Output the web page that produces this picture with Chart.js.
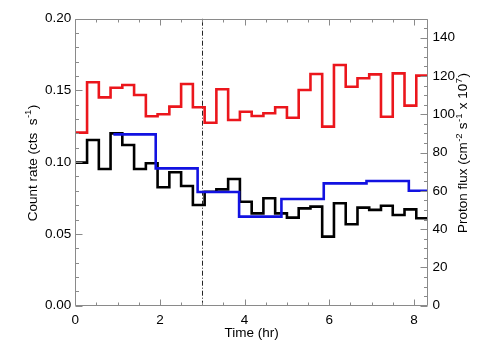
<!DOCTYPE html>
<html><head><meta charset="utf-8">
<script src="https://cdn.jsdelivr.net/npm/chart.js@4.4.1/dist/chart.umd.min.js"></script>
<style>html,body{margin:0;padding:0;background:#fff}canvas{display:block}</style>
</head><body>
<canvas id="c" width="504" height="360"></canvas>
<script>
// Time bin edges (hr), 1000 s bins
const binEdges = [0, 0.278, 0.556, 0.833, 1.111, 1.389, 1.667, 1.944, 2.222, 2.5,
  2.778, 3.056, 3.333, 3.611, 3.889, 4.167, 4.444, 4.722, 5.0, 5.278,
  5.556, 5.833, 6.111, 6.389, 6.667, 6.944, 7.222, 7.5, 7.778, 8.056, 8.333];
// Count rates (cts/s) per bin
const redRate = [0.1205, 0.1556, 0.1451, 0.1518, 0.1537, 0.1467, 0.1319, 0.1333, 0.1386, 0.1544,
  0.1382, 0.1274, 0.1507, 0.1293, 0.1351, 0.1321, 0.1340, 0.1382, 0.1309, 0.1502,
  0.1614, 0.1247, 0.1676, 0.1525, 0.1584, 0.1611, 0.1316, 0.1618, 0.1393, 0.1602];
const blackRate = [0.0996, 0.1154, 0.0952, 0.1200, 0.1119, 0.0952, 0.0992, 0.0825, 0.0929, 0.0834,
  0.0701, 0.0794, 0.0810, 0.0882, 0.0724, 0.0643, 0.0748, 0.0643, 0.0613, 0.0678,
  0.0690, 0.0481, 0.0713, 0.0567, 0.0683, 0.0667, 0.0696, 0.0632, 0.0671, 0.0609];
// Proton flux (cm^-2 s^-1 x 10^7), hourly bins
const protonEdges = [0.9, 1.9, 2.89, 3.87, 4.87, 5.87, 6.88, 7.88, 8.333];
const protonFlux = [89.5, 71.7, 59.4, 46.5, 55.7, 63.9, 65.1, 60.0];
// Axis ticks
const xTicks = [0, 2, 4, 6, 8];
const leftTicks = [0, 0.05, 0.10, 0.15, 0.20];
const rightTicks = [0, 20, 40, 60, 80, 100, 120, 140];
const markerTime = 3;

const FONT = "'Liberation Sans', Arial, Helvetica, sans-serif";
const FS = 13.5;
const AXIS_COLOR = '#8a8a8a';

function steps(edges, vals) {
  const pts = vals.map((v, i) => ({x: edges[i], y: v}));
  pts.push({x: edges[vals.length], y: vals[vals.length - 1]});
  return pts;
}

function drawRich(ctx, parts, cx, cy, rot) {
  ctx.save();
  ctx.translate(cx, cy);
  ctx.rotate(rot);
  ctx.textBaseline = 'alphabetic';
  ctx.textAlign = 'left';
  let w = 0;
  parts.forEach(p => { ctx.font = (p.sup ? 9.5 : FS) + 'px ' + FONT; w += ctx.measureText(p.t).width + (p.sup ? 1 : 0); });
  let x = -w / 2;
  parts.forEach(p => {
    ctx.font = (p.sup ? 9.5 : FS) + 'px ' + FONT;
    ctx.fillStyle = '#000';
    ctx.fillText(p.t, x + (p.sup ? 0.5 : 0), p.sup ? -5.5 : 0);
    x += ctx.measureText(p.t).width + (p.sup ? 1 : 0);
  });
  ctx.restore();
}

const framePlugin = {
  id: 'frame',
  beforeDatasetsDraw(chart) {
    const {ctx, chartArea: {left, right, top, bottom}, scales: {x}} = chart;
    const xp = Math.round(x.getPixelForValue(markerTime)) + 0.5;
    ctx.save();
    ctx.strokeStyle = '#222';
    ctx.lineWidth = 1;
    ctx.setLineDash([5, 2, 1, 2]);
    ctx.beginPath();
    ctx.moveTo(xp, bottom);
    ctx.lineTo(xp, top);
    ctx.stroke();
    ctx.restore();
  },
  afterDraw(chart) {
    const {ctx, chartArea: {left, right, top, bottom}, scales: {x, y, y1}} = chart;
    ctx.save();
    ctx.strokeStyle = AXIS_COLOR;
    ctx.lineWidth = 1;
    ctx.setLineDash([]);
    const L = Math.round(left) + 0.5, R = Math.round(right) - 0.5, T = Math.round(top) + 0.5, B = Math.round(bottom) - 0.5;
    ctx.beginPath();
    ctx.rect(L, T, R - L, B - T);
    ctx.stroke();
    ctx.beginPath();
    // x ticks (bottom & top)
    for (let v = 0; v <= 8.34; v += 0.5) {
      const major = Math.abs(v / 2 - Math.round(v / 2)) < 1e-6;
      const len = major ? 6 : 3;
      const px = Math.round(x.getPixelForValue(v)) + 0.5;
      ctx.moveTo(px, B); ctx.lineTo(px, B - len);
      ctx.moveTo(px, T); ctx.lineTo(px, T + len);
    }
    // left ticks
    for (let i = 0; i <= 20; i++) {
      const v = i / 100;
      const len = (i % 5 === 0) ? 7 : 3.5;
      const py = Math.round(y.getPixelForValue(v)) + 0.5;
      ctx.moveTo(L, py); ctx.lineTo(L + len, py);
    }
    // right ticks
    for (let v = 0; v <= 150; v += 5) {
      const len = (v % 20 === 0) ? 7 : 3.5;
      const py = Math.round(y1.getPixelForValue(v)) + 0.5;
      ctx.moveTo(R, py); ctx.lineTo(R - len, py);
    }
    ctx.stroke();
    ctx.restore();
    // Titles
    drawRich(ctx, [{t: 'Count rate (cts  s'}, {t: '-1', sup: true}, {t: ')'}], 36.5, 163, -Math.PI / 2);
    drawRich(ctx, [{t: 'Proton flux (cm'}, {t: '-2', sup: true}, {t: ' s'}, {t: '-1', sup: true}, {t: ' x 10'}, {t: '7', sup: true}, {t: ')'}], 467, 153, -Math.PI / 2);
    drawRich(ctx, [{t: 'Time (hr)'}], (left + right) / 2, 337, 0);
  }
};

const tickFont = {family: FONT, size: FS};

new Chart(document.getElementById('c'), {
  type: 'line',
  data: {
    datasets: [
      {data: steps(protonEdges, protonFlux), yAxisID: 'y1', borderColor: 'rgb(18,18,225)', borderWidth: 2.6, stepped: 'before', pointRadius: 0, fill: false, borderJoinStyle: 'miter', borderCapStyle: 'butt'},
      {data: steps(binEdges, blackRate), yAxisID: 'y', borderColor: '#000', borderWidth: 2.6, stepped: 'before', pointRadius: 0, fill: false, borderJoinStyle: 'miter', borderCapStyle: 'butt'},
      {data: steps(binEdges, redRate), yAxisID: 'y', borderColor: 'rgb(235,22,28)', borderWidth: 2.6, stepped: 'before', pointRadius: 0, fill: false, borderJoinStyle: 'miter', borderCapStyle: 'butt'}
    ]
  },
  options: {
    responsive: false,
    animation: false,
    devicePixelRatio: 1,
    layout: {padding: {top: 18.5, left: 0, right: 0, bottom: 0}},
    plugins: {legend: {display: false}, tooltip: {enabled: false}},
    scales: {
      x: {
        type: 'linear', min: 0, max: 8.333, position: 'bottom',
        grid: {display: false, drawTicks: false}, border: {display: false},
        afterBuildTicks: s => { s.ticks = xTicks.map(v => ({value: v})); },
        afterFit: s => { s.height = 54.3; },
        ticks: {font: tickFont, color: '#000', padding: 6, autoSkip: false, maxRotation: 0, callback: v => String(v)}
      },
      y: {
        type: 'linear', min: 0, max: 0.2, position: 'left',
        grid: {display: false, drawTicks: false}, border: {display: false},
        afterBuildTicks: s => { s.ticks = leftTicks.map(v => ({value: v})); },
        afterFit: s => { s.width = 75.3; },
        ticks: {font: tickFont, color: '#000', padding: 4, autoSkip: false, callback: v => Number(v).toFixed(2)}
      },
      y1: {
        type: 'linear', min: 0, max: 150, position: 'right',
        grid: {display: false, drawTicks: false}, border: {display: false},
        afterBuildTicks: s => { s.ticks = rightTicks.map(v => ({value: v})); },
        afterFit: s => { s.width = 76; },
        ticks: {font: tickFont, color: '#000', padding: 4.5, autoSkip: false, callback: v => String(v)}
      }
    }
  },
  plugins: [framePlugin]
});
</script>
</body></html>
